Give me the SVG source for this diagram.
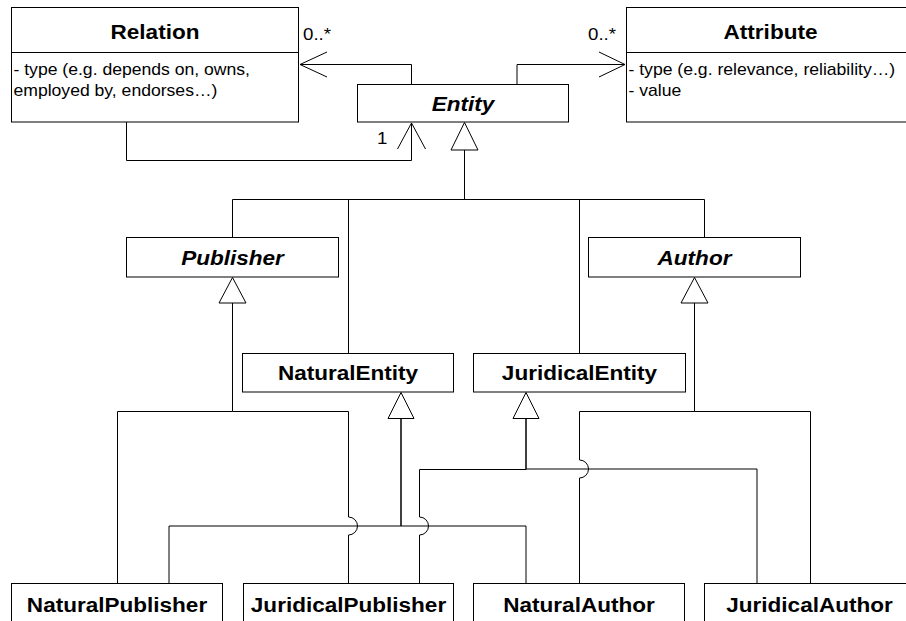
<svg xmlns="http://www.w3.org/2000/svg" width="906" height="621" viewBox="0 0 906 621">
  <style>
    .box { fill: #fff; stroke: #000; stroke-width: 1; }
    .edge { fill: none; stroke: #000; stroke-width: 1; }
    .head { fill: #fff; stroke: #000; stroke-width: 1; }
    .open { fill: none; stroke: #000; stroke-width: 1; }
    text { font-family: "Liberation Sans", Arial, Helvetica, sans-serif; fill: #000; }
    .name { font-size: 20.5px; font-weight: bold; text-anchor: middle; }
    .abstract { font-style: italic; }
    .attr { font-size: 16px; text-anchor: start; }
    .mult { font-size: 17px; text-anchor: start; }
  </style>
  <rect width="906" height="621" fill="#fff"/>

  <!-- connectors -->
  <g id="connectors">
    <!-- Entity -> Relation (0..*) -->
    <path class="edge" d="M411.5,84 V64.5 H300"/>
    <path class="open" d="M327,52 L300,64.5 L327,77"/>
    <!-- Entity -> Attribute (0..*) -->
    <path class="edge" d="M517,84 V64.5 H625"/>
    <path class="open" d="M599,52 L625,64.5 L599,77"/>
    <!-- Relation -> Entity (1) -->
    <path class="edge" d="M126.5,122 V160.5 H411.5 V123"/>
    <path class="open" d="M397.5,149 L411.5,123 L425.5,149"/>

    <!-- generalisations to Entity -->
    <path class="edge" d="M232.5,237 V199.5 H464.5 V150"/>
    <path class="edge" d="M348.5,353 V199.5 H464.5"/>
    <path class="edge" d="M579.5,353 V199.5 H464.5"/>
    <path class="edge" d="M704.5,237 V199.5 H464.5"/>
    <path class="head" d="M464.5,122.5 L451,150 L478,150 Z"/>

    <!-- generalisations to Publisher -->
    <path class="edge" d="M117.5,583 V411.5 H232.5 V303"/>
    <path class="edge" d="M348.5,583 V535 A9,9 0 0 0 348.5,517 V411.5 H232.5"/>
    <path class="head" d="M232.5,277.5 L219,303 L246,303 Z"/>

    <!-- generalisations to Author -->
    <path class="edge" d="M579.5,583 V478 A9,9 0 0 0 579.5,460 V411.5 H694.5 V303"/>
    <path class="edge" d="M810.5,583 V411.5 H694.5"/>
    <path class="head" d="M694.5,277.5 L681,303 L708,303 Z"/>

    <!-- generalisations to NaturalEntity -->
    <path class="edge" d="M169,583 V526 H401 V418.5"/>
    <path class="edge" d="M526,583 V526 H401 V418.5"/>
    <path class="head" d="M401,392.5 L388,418.5 L414,418.5 Z"/>

    <!-- generalisations to JuridicalEntity -->
    <path class="edge" d="M419.5,583 V535 A9,9 0 0 0 419.5,517 V469.5 H526 V418.5"/>
    <path class="edge" d="M757,583 V469 H526 V418.5"/>
    <path class="head" d="M526,392.5 L513,418.5 L539,418.5 Z"/>

    <!-- multiplicities -->
    <text class="mult" transform="translate(303 40) scale(1.1 1)">0..*</text>
    <text class="mult" transform="translate(588 40) scale(1.1 1)">0..*</text>
    <text class="mult" transform="translate(377 144) scale(1.1 1)">1</text>
  </g>

  <!-- classes -->
  <g id="Relation">
    <rect class="box" x="11.5" y="7.5" width="287" height="114.5"/>
    <line class="edge" x1="11.5" y1="52.5" x2="298.5" y2="52.5"/>
    <text class="name" transform="translate(155 38.5) scale(1.1 1)">Relation</text>
    <text class="attr" transform="translate(13.5 75) scale(1.1 1)">- type (e.g. depends on, owns,</text>
    <text class="attr" transform="translate(13.5 95.5) scale(1.1 1)">employed by, endorses…)</text>
  </g>

  <g id="Attribute">
    <rect class="box" x="626.5" y="7.5" width="288" height="114.5"/>
    <line class="edge" x1="626.5" y1="52.5" x2="914.5" y2="52.5"/>
    <text class="name" transform="translate(770.5 38.5) scale(1.1 1)">Attribute</text>
    <text class="attr" transform="translate(628.5 75) scale(1.1 1)">- type (e.g. relevance, reliability…)</text>
    <text class="attr" transform="translate(628.5 95.5) scale(1.1 1)">- value</text>
  </g>

  <g id="Entity">
    <rect class="box" x="357.5" y="84.5" width="211" height="37.5"/>
    <text class="name abstract" transform="translate(463 111) scale(1.1 1)">Entity</text>
  </g>

  <g id="Publisher">
    <rect class="box" x="126.5" y="237.5" width="212" height="39.5"/>
    <text class="name abstract" transform="translate(232.5 265) scale(1.1 1)">Publisher</text>
  </g>

  <g id="Author">
    <rect class="box" x="588.5" y="237.5" width="212" height="39.5"/>
    <text class="name abstract" transform="translate(694.5 265) scale(1.1 1)">Author</text>
  </g>

  <g id="NaturalEntity">
    <rect class="box" x="242.5" y="353.5" width="211" height="38.5"/>
    <text class="name" transform="translate(348 380) scale(1.1 1)">NaturalEntity</text>
  </g>

  <g id="JuridicalEntity">
    <rect class="box" x="473.5" y="353.5" width="212" height="38.5"/>
    <text class="name" transform="translate(579.5 380) scale(1.1 1)">JuridicalEntity</text>
  </g>

  <g id="NaturalPublisher">
    <rect class="box" x="11.5" y="583.5" width="211" height="60"/>
    <text class="name" transform="translate(117 612) scale(1.1 1)">NaturalPublisher</text>
  </g>

  <g id="JuridicalPublisher">
    <rect class="box" x="243.5" y="583.5" width="210" height="60"/>
    <text class="name" transform="translate(348.5 612) scale(1.1 1)">JuridicalPublisher</text>
  </g>

  <g id="NaturalAuthor">
    <rect class="box" x="473.5" y="583.5" width="211" height="60"/>
    <text class="name" transform="translate(579 612) scale(1.1 1)">NaturalAuthor</text>
  </g>

  <g id="JuridicalAuthor">
    <rect class="box" x="704.5" y="583.5" width="211" height="60"/>
    <text class="name" transform="translate(809.5 612) scale(1.1 1)">JuridicalAuthor</text>
  </g>
</svg>
